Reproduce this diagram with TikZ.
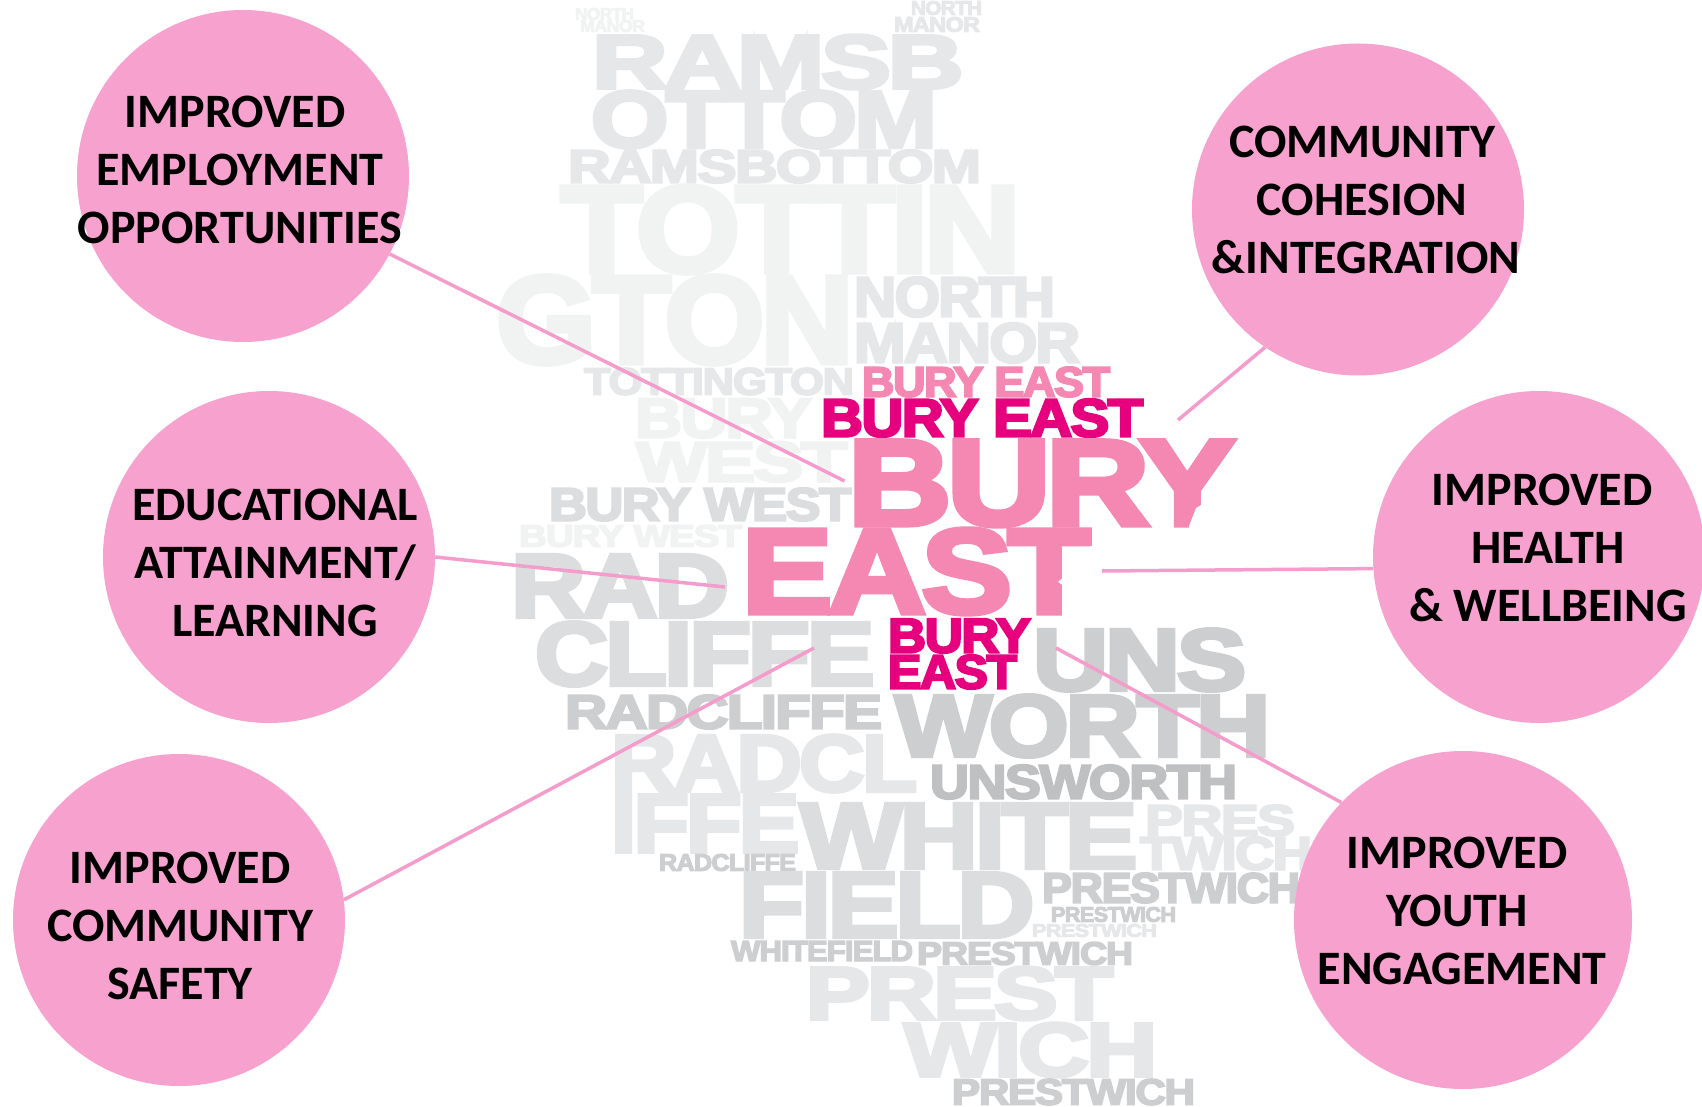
\documentclass[tikz,border=0pt]{standalone}
\usepackage{graphicx}
\usepackage{fontspec}
\setmainfont{Carlito}
\newfontfamily\hv[BoldFont=*,BoldFeatures={FakeBold=4.5},LetterSpace=-3]{Liberation Sans Bold}
\definecolor{pinkc}{HTML}{F7A1CE}
\definecolor{pinkl}{HTML}{F49CCB}
\definecolor{gA}{HTML}{F1F2F2}
\definecolor{gB}{HTML}{E6E7E8}
\definecolor{gC}{HTML}{DCDDDE}
\definecolor{gD}{HTML}{CDCED0}
\definecolor{gE}{HTML}{BFC0C2}
\definecolor{pkA}{HTML}{F587B3}
\definecolor{pkB}{HTML}{E6007E}
\tikzset{
  wordnode/.style={inner sep=0pt,outer sep=0pt,anchor=south west},
  ring/.style={circle,fill=pinkc,minimum size=332pt,inner sep=0pt},
  spoke/.style={draw=pinkl,line width=3.5pt},
  lab/.style={align=center,inner sep=0pt,font=\fontsize{48}{58}\selectfont\bfseries,text=black}
}
\newcommand{\wrd}[7]{\node[wordnode,text=#6] (#1) at (#2,#5) {\resizebox*{\dimexpr #4pt-#2pt\relax}{\dimexpr #5pt-#3pt\relax}{\hv\bfseries #7}};}
\begin{document}
\begin{tikzpicture}[x=1pt,y=-1pt]
\useasboundingbox (0,0) rectangle (1702,1107);
\fill[white] (0,0) rectangle (1702,1107);
% background words
\wrd{a1}{575}{8}{634}{20}{gA}{NORTH}
\wrd{a2}{580}{20}{645}{32}{gA}{MANOR}
\wrd{a3}{911}{1}{982}{15}{gB}{NORTH}
\wrd{a4}{894}{17}{980}{32}{gB}{MANOR}
\wrd{a5}{592}{35}{963}{89}{gB}{RAMSB}
\wrd{a6}{591}{91}{937}{148}{gB}{OTTOM}
\wrd{a7}{568}{150}{981}{183}{gB}{RAMSBOTTOM}
\wrd{a8}{561}{186}{1020}{273}{gA}{TOTTIN}
\wrd{a9}{496}{276}{853}{364}{gA}{GTON}
\wrd{a10}{854}{277}{1055}{317}{gB}{NORTH}
\wrd{a11}{854}{323}{1080}{363}{gB}{MANOR}
\wrd{a12}{584}{368}{854}{395}{gB}{TOTTINGTON}
\wrd{b1}{635}{399}{812}{438}{gA}{BURY}
\wrd{b2}{636}{442}{847}{482}{gA}{WEST}
\wrd{b3}{549}{488}{851}{521}{gC}{BURY WEST}
\wrd{b4}{519}{525}{742}{547}{gA}{BURY WEST}
\wrd{c1}{511}{555}{729}{617}{gC}{RAD}
\wrd{c2}{535}{622}{874}{686}{gC}{CLIFFE}
\wrd{c3}{1033}{629}{1246}{691}{gD}{UNS}
\wrd{c4}{565}{695}{882}{729}{gD}{RADCLIFFE}
\wrd{c5}{895}{695}{1270}{757}{gD}{WORTH}
\wrd{c6}{611}{735}{917}{792}{gB}{RADCL}
\wrd{c7}{930}{765}{1237}{799}{gE}{UNSWORTH}
\wrd{d1}{611}{795}{799}{852}{gB}{IFFE}
\wrd{d2}{800}{804}{1137}{868}{gC}{WHITE}
\wrd{d3}{1145}{805}{1295}{836}{gB}{PRES}
\wrd{d4}{1140}{837}{1312}{870}{gB}{TWICH}
\wrd{d5}{659}{854}{796}{871}{gD}{RADCLIFFE}
\wrd{d6}{739}{873}{1034}{937}{gC}{FIELD}
\wrd{d7}{1042}{873}{1300}{903}{gD}{PRESTWICH}
\wrd{d8}{1051}{907}{1176}{922}{gD}{PRESTWICH}
\wrd{d9}{1032}{924}{1157}{937}{gB}{PRESTWICH}
\wrd{d10}{731}{941}{913}{961}{gD}{WHITEFIELD}
\wrd{d11}{917}{942}{1133}{965}{gD}{PRESTWICH}
\wrd{d12}{806}{967}{1113}{1020}{gB}{PREST}
\wrd{d13}{904}{1023}{1157}{1077}{gB}{WICH}
\wrd{d14}{952}{1079}{1195}{1105}{gD}{PRESTWICH}
% pink words
\wrd{p1}{862}{367}{1110}{397}{pkA}{BURY EAST}
\wrd{p2}{821}{399}{1143}{437}{pkB}{BURY EAST}
\wrd{p3}{848}{441}{1235}{526}{pkA}{BURY}
\wrd{p4}{742}{529}{1090}{614}{pkA}{EAST}
\wrd{p5}{888}{619}{1031}{653}{pkB}{BURY}
\wrd{p6}{888}{655}{1017}{689}{pkB}{EAST}
% map-outline cuts in the letters
\fill[white] (1212,493) -- (1206,502) -- (1196,508) -- (1189,526) -- (1189,530) -- (1245,530) -- (1245,493) -- cycle;
\fill[white] (1095,545) -- (1076,550) -- (1068,573) -- (1058,582) -- (1070,590) -- (1070,616) -- (1095,616) -- cycle;
% circles
\node[ring] (c1n) at (243,176) {};
\node[ring] (c2n) at (1358,209.5) {};
\node[ring] (c3n) at (269,557) {};
\node[ring] (c4n) at (1539,557) {};
\node[ring] (c5n) at (179,920) {};
\node[ring,minimum size=338pt] (c6n) at (1463,920) {};
% connector free ends
\coordinate (e1) at (844.5,481);
\coordinate (e2) at (1178,420);
\coordinate (e3) at (725,587);
\coordinate (e4) at (1102,571);
\coordinate (e5) at (814,648);
\coordinate (e6) at (1056,648);
\draw[spoke] (c1n.-28.4) -- (e1);
\draw[spoke] (c2n.-124) -- (e2);
\draw[spoke] (c3n.0) -- (e3);
\draw[spoke] (c4n.184.8) -- (e4);
\draw[spoke] (c5n.7.6) -- (e5);
\draw[spoke] (c6n.136.2) -- (e6);
% labels
\node[lab] (t1) at (240,170) {\hspace*{-10pt}IMPROVED\\EMPLOYMENT\\OPPORTUNITIES};
\node[lab] (t2) at (1362,200) {COMMUNITY\\COHESION\\\hspace*{8pt}\&INTEGRATION};
\node[lab] (t3) at (275,563) {EDUCATIONAL\\ATTAINMENT/\\LEARNING};
\node[lab] (t4) at (1548,548) {\hspace*{-12pt}IMPROVED\\HEALTH\\\& WELLBEING};
\node[lab] (t5) at (180,926) {IMPROVED\\COMMUNITY\\SAFETY};
\node[lab] (t6) at (1462,911) {\hspace*{-10pt}IMPROVED\\\hspace*{-10pt}YOUTH\\ENGAGEMENT};
\end{tikzpicture}
\end{document}
